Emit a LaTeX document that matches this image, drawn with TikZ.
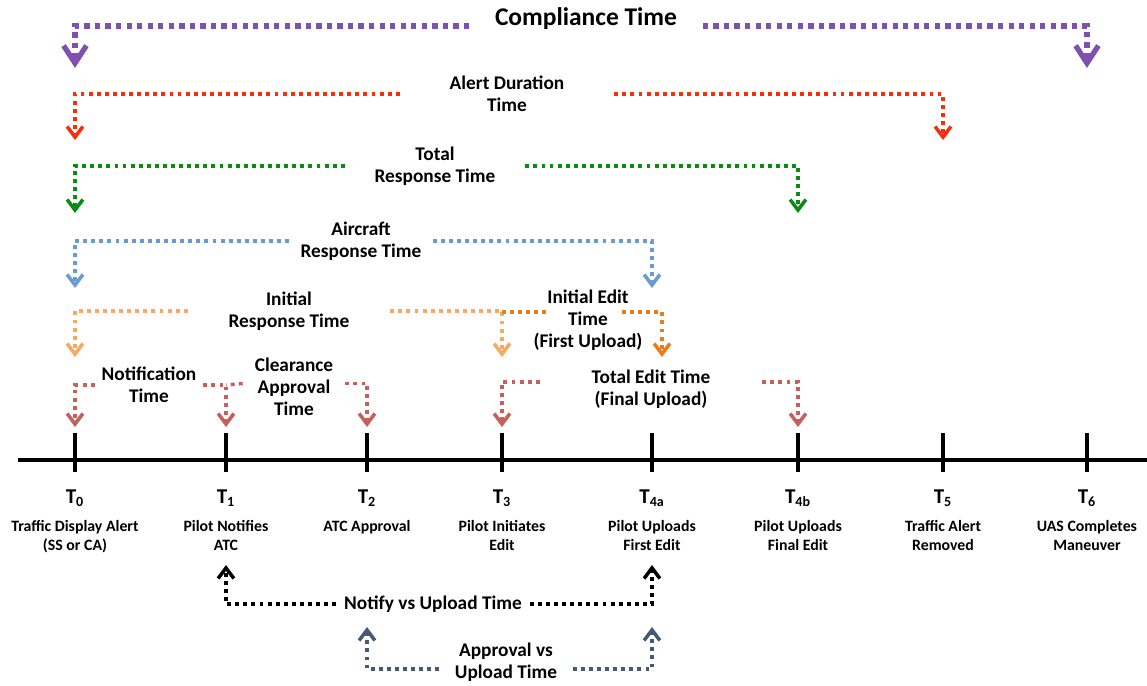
\documentclass[tikz,border=0pt]{standalone}
\usepackage{fontspec}
\setmainfont{Carlito}
\usepackage{tikz}
\usetikzlibrary{arrows.meta}
\usetikzlibrary{calc}

\definecolor{cplum}{RGB}{128,80,176}
\definecolor{cred}{RGB}{250,45,10}
\definecolor{cgreen}{RGB}{10,140,20}
\definecolor{cblue}{RGB}{105,155,210}
\definecolor{clorange}{RGB}{247,170,95}
\definecolor{cdorange}{RGB}{235,125,25}
\definecolor{crose}{RGB}{200,95,90}
\definecolor{cslate}{RGB}{70,90,120}

\tikzset{
  dots/.style={line width=2pt,dash pattern=on 2.2pt off 2.4pt,-{Straight Barb[length=6pt,width=9pt]}},
  lab/.style={font=\bfseries\fontsize{11}{12.5}\selectfont,align=center,inner sep=0pt},
  tname/.style={font=\bfseries\fontsize{12}{14}\selectfont,inner sep=0pt},
  desc/.style={font=\bfseries\fontsize{9}{10.8}\selectfont,align=center,inner sep=0pt,anchor=north}
}

\begin{document}
\begin{tikzpicture}[x=0.02cm,y=-0.02cm]
            \useasboundingbox (0,0) rectangle (1147,686);
            \draw[line width=2.3pt] (18,460) -- (1147,460);
            \foreach \n/\x/\d in {0/75/{Traffic Display Alert\\(SS or CA)},1/226/{Pilot Notifies\\ATC},2/367/{ATC Approval},3/502/{Pilot Initiates\\Edit},4a/652/{Pilot Uploads\\First Edit},4b/798/{Pilot Uploads\\Final Edit},5/943/{Traffic Alert\\Removed},6/1087/{UAS Completes\\Maneuver}}{
                \coordinate (t\n) at (\x,460);
                \draw[line width=2.3pt] (\x,433) -- (\x,472);
                \node[tname,anchor=base] (T\n) at (\x,503) {T\textsubscript{\n}};
                \node[desc] (D\n) at (\x,520) {\d};
            }
            \coordinate (rC) at (0,68);
            \coordinate (rA) at (0,140);
            \coordinate (rT) at (0,213);
            \coordinate (rR) at (0,288);
            \coordinate (rI) at (0,357);
            \coordinate (rN) at (0,427);
            \coordinate (rB) at (0,565);
            \coordinate (rS) at (0,627);
            % brackets above the time line
            \node[lab,font=\bfseries\fontsize{14.5}{16}\selectfont,minimum width=4.66cm,anchor=base] (comp) at (586,26) {Compliance Time};
            \draw[dots,cplum,line width=3pt,dash pattern=on 3pt off 3pt,-{Straight Barb[length=10pt,width=13pt]}] (comp.base west) -| (t0 |- rC);
            \draw[dots,cplum,line width=3pt,dash pattern=on 3pt off 3pt,-{Straight Barb[length=10pt,width=13pt]}] (comp.base east) -| (t6 |- rC);
            \node[lab,minimum width=4.28cm] (alert) at (507,94) {Alert Duration\\Time};
            \draw[dots,cred] (alert.west) -| (t0 |- rA);
            \draw[dots,cred] (alert.east) -| (t5 |- rA);
            \node[lab,minimum width=3.6cm] (total) at (435,166) {Total\\Response Time};
            \draw[dots,cgreen] (total.west) -| (t0 |- rT);
            \draw[dots,cgreen] (total.east) -| (t4b |- rT);
            \node[lab,minimum width=2.86cm] (acft) at (361,241) {Aircraft\\Response Time};
            \draw[dots,cblue] (acft.west) -| (t0 |- rR);
            \draw[dots,cblue] (acft.east) -| (t4a |- rR);
            \node[lab,minimum width=4.04cm] (iresp) at (289,311) {Initial\\Response Time};
            \draw[dots,clorange] (iresp.west) -| (t0 |- rI);
            \draw[dots,clorange] (iresp.east) -| (t3 |- rI);
            \node[lab] (iedit) at (588,320) {Initial Edit\\Time\\(First Upload)};
            \coordinate (ie1) at (547,312);
            \coordinate (ie2) at (622,312);
            \coordinate (ie3) at (662,357);
            \draw[dots,cdorange,-] (t3 |- ie1) -- (ie1);
            \draw[dots,cdorange] (ie2) -| (ie3);
            \node[lab,minimum width=2.16cm] (notif) at (149,385) {Notification\\Time};
            \draw[dots,crose] (notif.west) -| (t0 |- rN);
            \draw[dots,crose] (notif.east) -| (t1 |- rN);
            \node[lab,minimum width=2.04cm] (clear) at (294,387) {Clearance\\Approval\\Time};
            \draw[dots,crose,-] ([yshift=2pt]clear.west) -- (t1 |- notif.east);
            \draw[dots,crose] ([yshift=2pt]clear.east) -| (t2 |- rN);
            \node[lab,minimum width=4.44cm] (tedit) at (651,389) {Total Edit Time\\(Final Upload)};
            \draw[dots,crose] ([yshift=4pt]tedit.west) -| (t3 |- rN);
            \draw[dots,crose] ([yshift=4pt]tedit.east) -| (t4b |- rN);
            % brackets below
            \node[lab,minimum width=3.86cm] (nvu) at (433,604) {Notify vs Upload Time};
            \draw[dots,black] (nvu.west) -| (t1 |- rB);
            \draw[dots,black] (nvu.east) -| (t4a |- rB);
            \node[lab,minimum width=2.66cm] (avu) at (506,662) {Approval vs\\Upload Time};
            \draw[dots,cslate] ([yshift=-4pt]avu.west) -| (t2 |- rS);
            \draw[dots,cslate] ([yshift=-4pt]avu.east) -| (t4a |- rS);
\end{tikzpicture}
\end{document}
